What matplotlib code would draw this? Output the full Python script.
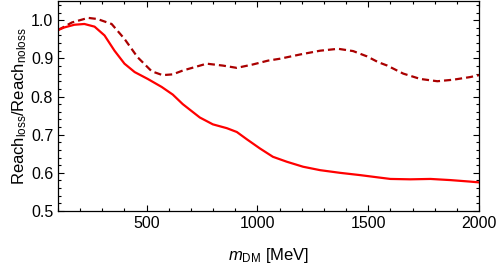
import matplotlib
matplotlib.use("Agg")
import matplotlib.pyplot as plt
import matplotlib.ticker as ticker

plt.rcParams["font.family"] = ["Liberation Sans", "DejaVu Sans"]
plt.rcParams["mathtext.fontset"] = "custom"
plt.rcParams["mathtext.rm"] = "Liberation Sans"
plt.rcParams["mathtext.it"] = "Liberation Sans:italic"

# values
m_loss = [100, 129, 174, 219, 265, 310, 355, 400, 446, 505, 568, 618, 663,
          740, 799, 862, 907, 952, 1011, 1070, 1133, 1206, 1283, 1373, 1464,
          1545, 1600, 1690, 1781, 1871, 1961, 2000]
r_loss = [0.974, 0.981, 0.988, 0.990, 0.983, 0.960, 0.920, 0.886, 0.864,
          0.846, 0.825, 0.805, 0.780, 0.745, 0.727, 0.717, 0.707, 0.688,
          0.664, 0.642, 0.629, 0.616, 0.607, 0.600, 0.594, 0.588, 0.584,
          0.583, 0.584, 0.581, 0.577, 0.575]

m_alt = [100, 163, 236, 278, 342, 400, 459, 523, 572, 618, 663, 771, 844,
         907, 980, 1048, 1102, 1192, 1283, 1364, 1432, 1495, 1545, 1586,
         1658, 1735, 1812, 1884, 1961, 2000]
r_alt = [0.974, 0.994, 1.006, 1.003, 0.990, 0.951, 0.903, 0.866, 0.856,
         0.858, 0.868, 0.886, 0.881, 0.875, 0.884, 0.894, 0.899, 0.910,
         0.920, 0.925, 0.919, 0.905, 0.890, 0.881, 0.860, 0.846, 0.840,
         0.844, 0.851, 0.856]

fig = plt.figure(figsize=(5.0, 2.7), dpi=100)
ax = fig.add_axes([0.116, 0.2185, 0.842, 0.7775])

ax.plot(m_alt, r_alt, color="#aa0000", lw=1.6, ls=(0, (3.2, 1.8)))
ax.plot(m_loss, r_loss, color="#ff0000", lw=1.6)

ax.set_xlim(100, 2000)
ax.set_ylim(0.5, 1.05)
ax.xaxis.set_major_locator(ticker.MultipleLocator(500))
ax.xaxis.set_minor_locator(ticker.MultipleLocator(100))
ax.yaxis.set_major_locator(ticker.MultipleLocator(0.1))
ax.yaxis.set_minor_locator(ticker.MultipleLocator(0.02))
ax.yaxis.set_major_formatter(ticker.FormatStrFormatter("%.1f"))
ax.tick_params(which="both", direction="in", top=True, right=True,
               labelsize=11.5, width=0.8)
ax.tick_params(which="major", length=4)
ax.tick_params(which="minor", length=2)
for s in ax.spines.values():
    s.set_linewidth(0.9)

ax.set_xlabel(r"$m_{\mathrm{DM}}$ [MeV]", fontsize=12, labelpad=11)
ax.set_ylabel(r"Reach$_{\mathrm{loss}}$/Reach$_{\mathrm{noloss}}$",
              fontsize=12, labelpad=1)

fig.savefig("out.png", dpi=100)
